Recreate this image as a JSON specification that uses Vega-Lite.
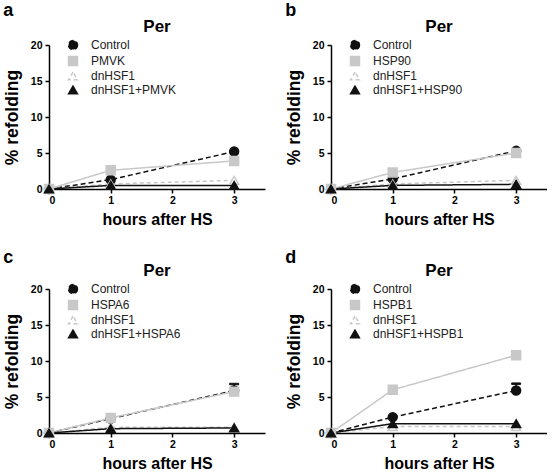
{
  "$schema": "https://vega.github.io/schema/vega-lite/v6.json",
  "padding": {"left": 3, "top": 2, "right": 0, "bottom": 0},
  "datasets": {
    "pts": [
      {"panel": "a", "s": "Control", "t": 0, "v": 0}, {"panel": "a", "s": "Control", "t": 1, "v": 1.3}, {"panel": "a", "s": "Control", "t": 3, "v": 5.2},
      {"panel": "a", "s": "PMVK", "t": 0, "v": 0}, {"panel": "a", "s": "PMVK", "t": 1, "v": 2.6}, {"panel": "a", "s": "PMVK", "t": 3, "v": 3.9},
      {"panel": "a", "s": "dnHSF1", "t": 0, "v": 0}, {"panel": "a", "s": "dnHSF1", "t": 1, "v": 0.7}, {"panel": "a", "s": "dnHSF1", "t": 3, "v": 1.2},
      {"panel": "a", "s": "dnHSF1+PMVK", "t": 0, "v": 0}, {"panel": "a", "s": "dnHSF1+PMVK", "t": 1, "v": 0.5}, {"panel": "a", "s": "dnHSF1+PMVK", "t": 3, "v": 0.5},
      {"panel": "b", "s": "Control", "t": 0, "v": 0}, {"panel": "b", "s": "Control", "t": 1, "v": 1.4}, {"panel": "b", "s": "Control", "t": 3, "v": 5.3},
      {"panel": "b", "s": "HSP90", "t": 0, "v": 0}, {"panel": "b", "s": "HSP90", "t": 1, "v": 2.3}, {"panel": "b", "s": "HSP90", "t": 3, "v": 5.0},
      {"panel": "b", "s": "dnHSF1", "t": 0, "v": 0}, {"panel": "b", "s": "dnHSF1", "t": 1, "v": 0.7}, {"panel": "b", "s": "dnHSF1", "t": 3, "v": 1.2},
      {"panel": "b", "s": "dnHSF1+HSP90", "t": 0, "v": 0}, {"panel": "b", "s": "dnHSF1+HSP90", "t": 1, "v": 0.5}, {"panel": "b", "s": "dnHSF1+HSP90", "t": 3, "v": 0.65},
      {"panel": "c", "s": "Control", "t": 0, "v": 0}, {"panel": "c", "s": "Control", "t": 1, "v": 2.0}, {"panel": "c", "s": "Control", "t": 3, "v": 5.9},
      {"panel": "c", "s": "HSPA6", "t": 0, "v": 0}, {"panel": "c", "s": "HSPA6", "t": 1, "v": 2.1}, {"panel": "c", "s": "HSPA6", "t": 3, "v": 5.75},
      {"panel": "c", "s": "dnHSF1", "t": 0, "v": 0}, {"panel": "c", "s": "dnHSF1", "t": 1, "v": 0.8}, {"panel": "c", "s": "dnHSF1", "t": 3, "v": 0.8},
      {"panel": "c", "s": "dnHSF1+HSPA6", "t": 0, "v": 0}, {"panel": "c", "s": "dnHSF1+HSPA6", "t": 1, "v": 0.6}, {"panel": "c", "s": "dnHSF1+HSPA6", "t": 3, "v": 0.7},
      {"panel": "d", "s": "Control", "t": 0, "v": 0}, {"panel": "d", "s": "Control", "t": 1, "v": 2.2}, {"panel": "d", "s": "Control", "t": 3, "v": 5.9},
      {"panel": "d", "s": "HSPB1", "t": 0, "v": 0}, {"panel": "d", "s": "HSPB1", "t": 1, "v": 6.0}, {"panel": "d", "s": "HSPB1", "t": 3, "v": 10.8},
      {"panel": "d", "s": "dnHSF1", "t": 0, "v": 0}, {"panel": "d", "s": "dnHSF1", "t": 1, "v": 0.9}, {"panel": "d", "s": "dnHSF1", "t": 3, "v": 0.9},
      {"panel": "d", "s": "dnHSF1+HSPB1", "t": 0, "v": 0}, {"panel": "d", "s": "dnHSF1+HSPB1", "t": 1, "v": 1.3}, {"panel": "d", "s": "dnHSF1+HSPB1", "t": 3, "v": 1.3}
    ],
    "err": [
      {"panel": "c", "s": "Control", "t": 3, "lo": 5.9, "v": 6.8},
      {"panel": "d", "s": "Control", "t": 3, "lo": 5.9, "v": 6.85},
      {"panel": "d", "s": "HSPB1", "t": 3, "lo": 10.8, "v": 11.3}
    ]
  },
  "vconcat": [
    {
      "hconcat": [
        {
          "title": {"text": "a", "anchor": "start", "fontSize": 18, "offset": -2},
          "vconcat": [
            {
              "width": 216, "height": 144,
              "title": {"text": "Per", "frame": "group", "offset": 4},
              "encoding": {
                "x": {"field": "t", "type": "quantitative", "scale": {"domain": [0, 3.5], "nice": false}, "axis": {"values": [0, 1, 2, 3], "title": "hours after HS", "titlePadding": 6, "labelPadding": 2}},
                "y": {"field": "v", "type": "quantitative", "scale": {"domain": [0, 20], "nice": false}, "axis": {"values": [0, 5, 10, 15, 20], "title": "% refolding", "titlePadding": 9, "labelPadding": 3}}
              },
              "layer": [
                {"data": {"name": "pts"}, "transform": [{"filter": "datum.panel === 'a'"}], "mark": {"type": "line", "strokeWidth": 1.5},
                 "encoding": {"stroke": {"field": "s", "type": "nominal", "scale": {"domain": ["Control", "PMVK", "dnHSF1", "dnHSF1+PMVK"], "range": ["#111111", "#c8c8c8", "#c8c8c8", "#111111"]}},
                              "strokeDash": {"field": "s", "type": "nominal", "scale": {"domain": ["Control", "PMVK", "dnHSF1", "dnHSF1+PMVK"], "range": [[5, 3], [1, 0], [4, 3], [1, 0]]}, "legend": null}}},
                {"data": {"name": "pts"}, "transform": [{"filter": "datum.panel === 'a'"}], "mark": {"type": "point", "filled": true, "size": 80, "strokeWidth": 1.5, "opacity": 1},
                 "encoding": {
                   "shape": {"field": "s", "type": "nominal", "scale": {"domain": ["Control", "PMVK", "dnHSF1", "dnHSF1+PMVK"], "range": ["circle", "square", "triangle-up", "triangle-up"]}, "legend": {"title": null, "orient": "none", "legendX": 18, "legendY": -6}},
                   "fill": {"field": "s", "type": "nominal", "scale": {"domain": ["Control", "PMVK", "dnHSF1", "dnHSF1+PMVK"], "range": ["#111111", "#c8c8c8", "#ffffff", "#111111"]}, "legend": {"title": null, "orient": "none", "legendX": 18, "legendY": -6}},
                   "stroke": {"field": "s", "type": "nominal", "legend": {"title": null, "orient": "none", "legendX": 18, "legendY": -6}}
                 }}
              ]
            }
          ]
        },
        {
          "title": {"text": "b", "anchor": "start", "fontSize": 18, "offset": -2},
          "vconcat": [
            {
              "width": 216, "height": 144,
              "title": {"text": "Per", "frame": "group", "offset": 4},
              "encoding": {
                "x": {"field": "t", "type": "quantitative", "scale": {"domain": [0, 3.5], "nice": false}, "axis": {"values": [0, 1, 2, 3], "title": "hours after HS", "titlePadding": 6, "labelPadding": 2}},
                "y": {"field": "v", "type": "quantitative", "scale": {"domain": [0, 20], "nice": false}, "axis": {"values": [0, 5, 10, 15, 20], "title": "% refolding", "titlePadding": 9, "labelPadding": 3}}
              },
              "layer": [
                {"data": {"name": "pts"}, "transform": [{"filter": "datum.panel === 'b'"}], "mark": {"type": "line", "strokeWidth": 1.5},
                 "encoding": {"stroke": {"field": "s", "type": "nominal", "scale": {"domain": ["Control", "HSP90", "dnHSF1", "dnHSF1+HSP90"], "range": ["#111111", "#c8c8c8", "#c8c8c8", "#111111"]}},
                              "strokeDash": {"field": "s", "type": "nominal", "scale": {"domain": ["Control", "HSP90", "dnHSF1", "dnHSF1+HSP90"], "range": [[5, 3], [1, 0], [4, 3], [1, 0]]}, "legend": null}}},
                {"data": {"name": "pts"}, "transform": [{"filter": "datum.panel === 'b'"}], "mark": {"type": "point", "filled": true, "size": 80, "strokeWidth": 1.5, "opacity": 1},
                 "encoding": {
                   "shape": {"field": "s", "type": "nominal", "scale": {"domain": ["Control", "HSP90", "dnHSF1", "dnHSF1+HSP90"], "range": ["circle", "square", "triangle-up", "triangle-up"]}, "legend": {"title": null, "orient": "none", "legendX": 18, "legendY": -6}},
                   "fill": {"field": "s", "type": "nominal", "scale": {"domain": ["Control", "HSP90", "dnHSF1", "dnHSF1+HSP90"], "range": ["#111111", "#c8c8c8", "#ffffff", "#111111"]}, "legend": {"title": null, "orient": "none", "legendX": 18, "legendY": -6}},
                   "stroke": {"field": "s", "type": "nominal", "legend": {"title": null, "orient": "none", "legendX": 18, "legendY": -6}}
                 }}
              ]
            }
          ]
        }
      ],
      "spacing": 20,
      "resolve": {"scale": {"fill": "independent", "stroke": "independent", "shape": "independent", "strokeDash": "independent"}, "legend": {"fill": "independent", "stroke": "independent", "shape": "independent"}}
    },
    {
      "hconcat": [
        {
          "title": {"text": "c", "anchor": "start", "fontSize": 18, "offset": -5},
          "vconcat": [
            {
              "width": 216, "height": 144,
              "title": {"text": "Per", "frame": "group", "offset": 4},
              "encoding": {
                "x": {"field": "t", "type": "quantitative", "scale": {"domain": [0, 3.5], "nice": false}, "axis": {"values": [0, 1, 2, 3], "title": "hours after HS", "titlePadding": 6, "labelPadding": 2}},
                "y": {"field": "v", "type": "quantitative", "scale": {"domain": [0, 20], "nice": false}, "axis": {"values": [0, 5, 10, 15, 20], "title": "% refolding", "titlePadding": 9, "labelPadding": 3}}
              },
              "layer": [
                {"data": {"name": "pts"}, "transform": [{"filter": "datum.panel === 'c'"}], "mark": {"type": "line", "strokeWidth": 1.5},
                 "encoding": {"stroke": {"field": "s", "type": "nominal", "scale": {"domain": ["Control", "HSPA6", "dnHSF1", "dnHSF1+HSPA6"], "range": ["#111111", "#c8c8c8", "#c8c8c8", "#111111"]}},
                              "strokeDash": {"field": "s", "type": "nominal", "scale": {"domain": ["Control", "HSPA6", "dnHSF1", "dnHSF1+HSPA6"], "range": [[5, 3], [1, 0], [4, 3], [1, 0]]}, "legend": null}}},
                {"data": {"name": "err"}, "transform": [{"filter": "datum.panel === 'c'"}], "mark": {"type": "rule", "strokeWidth": 1.5, "opacity": 1},
                 "encoding": {"y2": {"field": "lo"}, "stroke": {"field": "s", "type": "nominal"}}},
                {"data": {"name": "err"}, "transform": [{"filter": "datum.panel === 'c'"}], "mark": {"type": "tick", "orient": "horizontal", "size": 9, "thickness": 1.5, "opacity": 1},
                 "encoding": {"stroke": {"field": "s", "type": "nominal"}, "fill": {"field": "s", "type": "nominal"}}},
                {"data": {"name": "pts"}, "transform": [{"filter": "datum.panel === 'c'"}], "mark": {"type": "point", "filled": true, "size": 80, "strokeWidth": 1.5, "opacity": 1},
                 "encoding": {
                   "shape": {"field": "s", "type": "nominal", "scale": {"domain": ["Control", "HSPA6", "dnHSF1", "dnHSF1+HSPA6"], "range": ["circle", "square", "triangle-up", "triangle-up"]}, "legend": {"title": null, "orient": "none", "legendX": 18, "legendY": -6}},
                   "fill": {"field": "s", "type": "nominal", "scale": {"domain": ["Control", "HSPA6", "dnHSF1", "dnHSF1+HSPA6"], "range": ["#111111", "#c8c8c8", "#ffffff", "#111111"]}, "legend": {"title": null, "orient": "none", "legendX": 18, "legendY": -6}},
                   "stroke": {"field": "s", "type": "nominal", "legend": {"title": null, "orient": "none", "legendX": 18, "legendY": -6}}
                 }}
              ]
            }
          ]
        },
        {
          "title": {"text": "d", "anchor": "start", "fontSize": 18, "offset": -5},
          "vconcat": [
            {
              "width": 216, "height": 144,
              "title": {"text": "Per", "frame": "group", "offset": 4},
              "encoding": {
                "x": {"field": "t", "type": "quantitative", "scale": {"domain": [0, 3.5], "nice": false}, "axis": {"values": [0, 1, 2, 3], "title": "hours after HS", "titlePadding": 6, "labelPadding": 2}},
                "y": {"field": "v", "type": "quantitative", "scale": {"domain": [0, 20], "nice": false}, "axis": {"values": [0, 5, 10, 15, 20], "title": "% refolding", "titlePadding": 9, "labelPadding": 3}}
              },
              "layer": [
                {"data": {"name": "pts"}, "transform": [{"filter": "datum.panel === 'd'"}], "mark": {"type": "line", "strokeWidth": 1.5},
                 "encoding": {"stroke": {"field": "s", "type": "nominal", "scale": {"domain": ["Control", "HSPB1", "dnHSF1", "dnHSF1+HSPB1"], "range": ["#111111", "#c8c8c8", "#c8c8c8", "#111111"]}},
                              "strokeDash": {"field": "s", "type": "nominal", "scale": {"domain": ["Control", "HSPB1", "dnHSF1", "dnHSF1+HSPB1"], "range": [[5, 3], [1, 0], [4, 3], [1, 0]]}, "legend": null}}},
                {"data": {"name": "err"}, "transform": [{"filter": "datum.panel === 'd'"}], "mark": {"type": "rule", "strokeWidth": 1.5, "opacity": 1},
                 "encoding": {"y2": {"field": "lo"}, "stroke": {"field": "s", "type": "nominal"}}},
                {"data": {"name": "err"}, "transform": [{"filter": "datum.panel === 'd'"}], "mark": {"type": "tick", "orient": "horizontal", "size": 9, "thickness": 1.5, "opacity": 1},
                 "encoding": {"stroke": {"field": "s", "type": "nominal"}, "fill": {"field": "s", "type": "nominal"}}},
                {"data": {"name": "pts"}, "transform": [{"filter": "datum.panel === 'd'"}], "mark": {"type": "point", "filled": true, "size": 80, "strokeWidth": 1.5, "opacity": 1},
                 "encoding": {
                   "shape": {"field": "s", "type": "nominal", "scale": {"domain": ["Control", "HSPB1", "dnHSF1", "dnHSF1+HSPB1"], "range": ["circle", "square", "triangle-up", "triangle-up"]}, "legend": {"title": null, "orient": "none", "legendX": 18, "legendY": -6}},
                   "fill": {"field": "s", "type": "nominal", "scale": {"domain": ["Control", "HSPB1", "dnHSF1", "dnHSF1+HSPB1"], "range": ["#111111", "#c8c8c8", "#ffffff", "#111111"]}, "legend": {"title": null, "orient": "none", "legendX": 18, "legendY": -6}},
                   "stroke": {"field": "s", "type": "nominal", "legend": {"title": null, "orient": "none", "legendX": 18, "legendY": -6}}
                 }}
              ]
            }
          ]
        }
      ],
      "spacing": 20,
      "resolve": {"scale": {"fill": "independent", "stroke": "independent", "shape": "independent", "strokeDash": "independent"}, "legend": {"fill": "independent", "stroke": "independent", "shape": "independent"}}
    }
  ],
  "spacing": 21,
  "resolve": {"scale": {"fill": "independent", "stroke": "independent", "shape": "independent", "strokeDash": "independent"}, "legend": {"fill": "independent", "stroke": "independent", "shape": "independent"}},
  "config": {
    "font": "Liberation Sans",
    "view": {"stroke": null},
    "axis": {"grid": false, "domainColor": "#000000", "domainWidth": 1.5, "tickColor": "#000000", "tickWidth": 1.5, "tickSize": 4, "labelFontWeight": "bold", "labelFontSize": 10.5, "labelColor": "#000000", "titleFontSize": 16, "titleFontWeight": "bold", "titleColor": "#000000"},
    "axisY": {"titleFontSize": 17.5},
    "legend": {"labelFontSize": 12, "labelColor": "#222222", "symbolSize": 80, "symbolStrokeWidth": 1.5, "symbolDash": [], "symbolOpacity": 1, "rowPadding": 0, "padding": 0, "labelOffset": 12},
    "title": {"fontSize": 17, "fontWeight": "bold", "color": "#000000"}
  }
}
